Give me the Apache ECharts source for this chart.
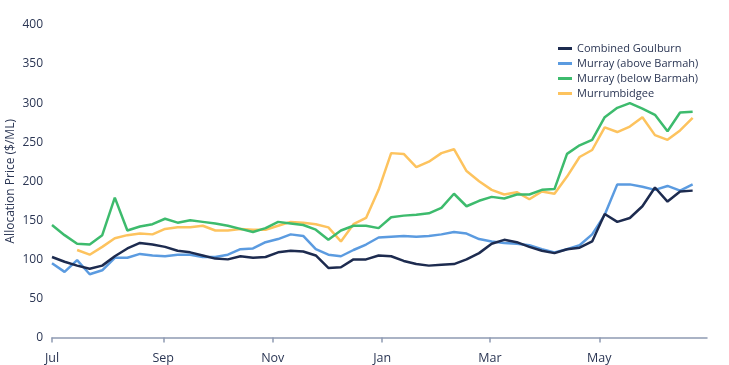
<!DOCTYPE html>
<html>
<head>
<meta charset="utf-8">
<script src="https://cdn.jsdelivr.net/npm/echarts@6/dist/echarts.min.js"></script>
<style>
html,body{margin:0;padding:0;background:#fff;}
#chart{width:729px;height:365px;}
</style>
</head>
<body>
<div id="chart"></div>
<script>
// Days since 1 July for each weekly observation
var days = [0,7,14,21,28,35,42,49,56,63,70,77,84,91,98,105,112,119,126,133,140,147,154,161,168,175,182,189,196,203,210,217,224,231,238,245,252,259,266,273,280,287,294,301,308,315,322,329,336,343,350,357];

var seriesNames = ['Combined Goulburn','Murray (above Barmah)','Murray (below Barmah)','Murrumbidgee'];

var combinedGoulburn = [103,97,92,88,92,104,114,121,119,116,111,109,105,101,100,104,102,103,109,111,110,105,89,90,100,100,105,104,98,94,92,93,94,100,108,120,125,122,116,111,108,113,115,123,158,148,153,168,192,174,187,188];

var murrayAbove = [95,84,99,81,86,102,102,107,105,104,106,106,103,103,106,113,114,122,126,132,130,113,106,104,112,119,128,129,130,129,130,132,135,133,126,123,121,120,118,113,109,113,118,132,157,196,196,193,189,194,188,196];

var murrayBelow = [144,131,120,119,131,179,137,142,145,152,147,150,148,146,143,139,135,140,148,146,144,138,125,137,143,143,140,154,156,157,159,166,184,168,175,180,178,183,183,189,190,235,246,253,282,294,300,293,285,264,288,289];

var murrumbidgee = [null,null,112,106,116,127,131,133,132,139,141,141,143,137,137,139,138,138,143,148,147,145,141,123,145,153,189,236,235,218,225,236,241,213,200,189,183,186,177,187,184,206,231,240,269,263,270,282,259,253,265,281];

// Tick positions (days since 1 July) and their labels
var monthTickDays = [0,62,123,184,244,305];
var monthTickLabels = ['Jul','Sep','Nov','Jan','Mar','May'];
var yTicks = [0,50,100,150,200,250,300,350,400];

var colors = ['#1d2b4f','#5b9be0','#3dbb6d','#fdc35e'];

function pairs(vals){
  var out = [];
  for (var i = 0; i < vals.length; i++) {
    if (vals[i] !== null) out.push([days[i], vals[i]]);
  }
  return out;
}

var allData = [combinedGoulburn, murrayAbove, murrayBelow, murrumbidgee];

var chart = echarts.init(document.getElementById('chart'), null, {renderer:'canvas'});
var textColor = '#2b3654';
chart.setOption({
  animation:false,
  backgroundColor:'#ffffff',
  color: colors,
  grid:{left:52, right:22, top:25, bottom:27.5, containLabel:false, outerBoundsMode:'none'},
  legend:{
    orient:'vertical',
    left:553, top:38,
    itemWidth:14, itemHeight:3, itemGap:4,
    icon:'rect',
    textStyle:{color:textColor, fontSize:11, fontFamily:'Open Sans'},
    data: seriesNames
  },
  xAxis:{
    type:'value',
    min:0, max:365,
    axisLine:{show:true, lineStyle:{color:'#8e9bb3', width:1.5}},
    axisTick:{show:true, customValues: monthTickDays, length:5, lineStyle:{color:'#8e9bb3', width:1.5}},
    axisLabel:{
      customValues: monthTickDays,
      margin:14,
      color:textColor, fontSize:12.5, fontFamily:'Open Sans',
      formatter:function(v){
        var idx = monthTickDays.indexOf(Math.round(v));
        return idx >= 0 ? monthTickLabels[idx] : '';
      }
    },
    splitLine:{show:false}
  },
  yAxis:{
    type:'value',
    min:yTicks[0], max:yTicks[yTicks.length-1], interval:50,
    name:'Allocation Price ($/ML)',
    nameLocation:'middle',
    nameGap:35,
    nameMoveOverlap:false,
    nameTextStyle:{color:textColor, fontSize:12, fontFamily:'Open Sans'},
    axisLine:{show:false},
    axisTick:{show:false},
    axisLabel:{color:textColor, fontSize:12, margin:9, fontFamily:'Open Sans'},
    splitLine:{show:false}
  },
  series: seriesNames.map(function(n, k){
    return {
      name:n, type:'line', data: pairs(allData[k]),
      showSymbol:false, symbol:'none',
      lineStyle:{width:2.5, color:colors[k]},
      itemStyle:{color:colors[k]},
      z: [5,4,3,2][k]
    };
  })
});
</script>
</body>
</html>
